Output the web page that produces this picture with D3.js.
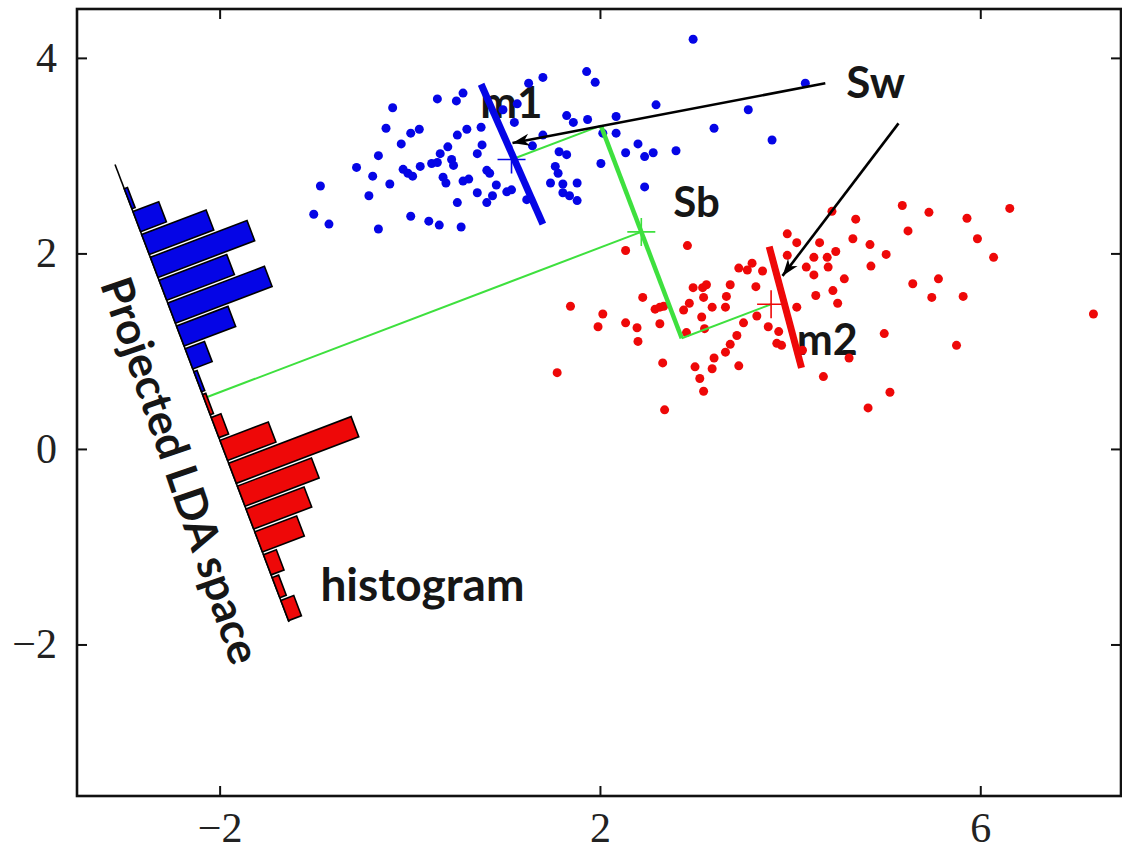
<!DOCTYPE html>
<html>
<head>
<meta charset="utf-8">
<script src="https://cdn.jsdelivr.net/npm/d3@7"></script>
<style>
  body { margin: 0; background: #fff; }
</style>
</head>
<body>
<div id="chart"></div>
<script>
// class 1 samples (blue)
const blueX = [-0.94, -1.01, -0.85, -0.56, -0.43, -0.39, -0.33, -0.25, -0.18, -0.21, -0.33, -0.09, -0.07, -0.02, 0.03,
  0.11, 0.01, 0.10, 0.01, 0.20, 0.31, 0.23, 0.29, 0.32, 0.40, 0.44, 0.46, 0.35, 0.38, 0.29, 0.49, 0.56, 0.50, 0.60,
  0.75, 0.76, 0.71, 0.56, 0.62, 0.50, 0.54, 0.71, 0.81, 0.84, 0.91, 0.87, 0.81, 1.02, 1.07, 1.23, 0.98, 1.10, 1.25,
  1.40, 1.86, 1.95, 1.65, 1.72, 1.87, 1.40, 1.57, 1.65, 1.53, 1.56, 1.48, 1.61, 1.76, 1.61, 1.68, 1.76, 2.01, 2.03,
  2.98, 3.56, 3.20, 2.80, 2.59, 2.47, 2.17, 2.17, 2.27, 2.40, 2.47, 2.56, 3.81, 4.16, 1.13, 1.29];
const blueY = [2.69, 2.40, 2.30, 2.88, 2.59, 2.79, 3.00, 3.28, 3.49, 2.71, 2.25, 3.12, 2.86, 2.82, 2.79,
  2.89, 3.23, 3.27, 2.38, 2.33, 2.29, 2.92, 2.93, 3.02, 3.09, 2.96, 2.90, 2.78, 2.72, 3.58, 3.56, 3.64, 3.21, 3.27,
  3.29, 3.11, 3.02, 2.74, 2.76, 2.52, 2.27, 2.62, 2.85, 2.82, 2.70, 2.59, 2.52, 2.63, 2.65, 2.55, 3.47, 3.34, 3.74,
  3.80, 3.86, 3.75, 3.41, 3.34, 3.37, 3.21, 3.04, 3.01, 2.89, 2.82, 2.72, 2.71, 2.72, 2.62, 2.59, 2.54, 2.92, 3.23,
  4.19, 3.47, 3.28, 3.05, 3.52, 2.68, 3.23, 3.40, 3.03, 3.12, 2.99, 3.03, 3.16, 3.74, 3.53, 3.10];

// class 2 samples (red)
const redX = [1.55, 1.69, 1.98, 2.03, 2.27, 2.27, 2.39, 2.40, 2.45, 2.58, 2.63, 2.67, 2.63, 2.66, 2.68, 2.92, 2.88,
  2.94, 2.98, 3.08, 3.12, 3.09, 3.18, 3.07, 3.10, 2.91, 3.00, 3.05, 3.09, 3.18, 3.20, 3.32, 3.37, 3.44, 3.51, 3.46,
  3.33, 3.32, 3.37, 3.46, 3.55, 3.60, 3.71, 3.64, 3.65, 3.77, 3.88, 3.91, 3.97, 4.07, 3.97, 4.07, 4.17, 4.25, 4.25,
  4.31, 4.39, 4.40, 4.48, 4.57, 4.27, 4.45, 4.50, 4.35, 4.66, 4.69, 4.44, 4.62, 4.13, 3.86, 5.18, 5.46, 5.86, 6.31,
  5.24, 5.97, 6.14, 4.84, 5.01, 4.85, 5.29, 5.56, 5.49, 5.82, 7.19, 4.99, 5.75, 5.05, 4.82];
const redY = [0.78, 1.46, 1.25, 1.38, 2.03, 1.29, 1.24, 1.10, 1.55, 1.43, 1.45, 1.46, 1.28, 0.88, 0.40, 2.08, 1.42,
  1.49, 1.65, 1.65, 1.68, 1.55, 1.45, 1.35, 1.23, 1.19, 0.84, 0.72, 0.59, 0.82, 0.93, 0.99, 1.07, 1.16, 1.29, 0.85,
  1.56, 1.45, 1.68, 1.85, 1.83, 1.90, 1.82, 1.66, 1.36, 1.25, 1.20, 1.06, 2.20, 2.11, 1.98, 1.45, 1.86, 1.96, 1.78,
  2.11, 1.96, 1.86, 2.02, 1.74, 1.57, 1.62, 1.49, 0.74, 2.15, 2.35, 2.43, 0.93, 1.01, 1.08, 2.49, 2.42, 2.36, 2.46,
  2.23, 2.15, 1.96, 2.09, 1.99, 1.87, 1.69, 1.74, 1.55, 1.56, 1.38, 1.18, 1.06, 0.58, 0.42];

// class means m1, m2
const meanX = [1.07, 3.80];
const meanY = [2.96, 1.48];

// within-class spread segments drawn through each class
const spreadX = [[0.75, 1.40], [3.78, 4.12]];
const spreadY = [[3.73, 2.30], [2.07, 0.83]];

// LDA projection axis (start, end) and histogram counts per bin along it
const projX = [-3.10, -1.27];
const projY = [2.91, -1.77];
const blueCounts = [0, 1, 8, 20, 30, 21, 30, 16, 6, 1, 0, 0, 0, 0, 0, 0, 0, 0, 0, 0];
const redCounts  = [0, 0, 0, 0, 0, 0, 0, 0, 0, 0, 1, 3, 15, 38, 23, 18, 13, 4, 2, 4];

// "Sw" arrows: tail -> head
const arrowX = [[4.37, 1.08], [5.14, 3.92]];
const arrowY = [[3.74, 3.13], [3.33, 1.77]];

// annotation labels
const labelText = ["m1", "m2", "Sb", "Sw", "histogram"];
const labelX = [0.74, 4.07, 2.77, 4.59, -0.94];
const labelY = [3.39, 0.96, 2.37, 3.59, -1.56];

const xTicks = [-2, 2, 6];
const yTicks = [-2, 0, 2, 4];

const width = 1122;
const height = 856;

const x = d3.scaleLinear().domain([-3.5, 7.48]).range([77, 1121]);
const y = d3.scaleLinear().domain([-3.55, 4.5]).range([796, 9]);

const BLUE = "#0505e6";
const RED = "#ee0808";
const GREEN = "#3ee03e";
const labelFont = "Lato, 'Open Sans', sans-serif";

const svg = d3.select("#chart")
              .append("svg")
              .attr("width", width)
              .attr("height", height);

// text annotations sit under the marks
const labelSize = [44, 43, 42, 44, 46];
svg.selectAll("text.label")
   .data(labelText)
   .enter()
   .append("text")
   .attr("class", "label")
   .attr("x", (d, i) => x(labelX[i]))
   .attr("y", (d, i) => y(labelY[i]))
   .style("font-family", labelFont)
   .style("font-weight", 700)
   .style("font-size", (d, i) => labelSize[i] + "px")
   .style("fill", "#161616")
   .text(d => d);

// scatter
const blue = blueX.map((v, i) => [v, blueY[i]]);
const red = redX.map((v, i) => [v, redY[i]]);

svg.append("g").selectAll("circle")
   .data(blue)
   .enter()
   .append("circle")
   .attr("cx", d => x(d[0]))
   .attr("cy", d => y(d[1]))
   .attr("r", 4.5)
   .style("fill", BLUE);

svg.append("g").selectAll("circle")
   .data(red)
   .enter()
   .append("circle")
   .attr("cx", d => x(d[0]))
   .attr("cy", d => y(d[1]))
   .attr("r", 4.5)
   .style("fill", RED);

// geometry of the projection direction, in pixels
const P0 = [x(projX[0]), y(projY[0])];
const P1 = [x(projX[1]), y(projY[1])];
const len = Math.hypot(P1[0] - P0[0], P1[1] - P0[1]);
const u = [(P1[0] - P0[0]) / len, (P1[1] - P0[1]) / len];
const ang = Math.atan2(u[1], u[0]) * 180 / Math.PI;
const foot = (p, o) => {
  const t = (p[0] - o[0]) * u[0] + (p[1] - o[1]) * u[1];
  return [o[0] + t * u[0], o[1] + t * u[1]];
};

const M1 = [x(meanX[0]), y(meanY[0])];
const M2 = [x(meanX[1]), y(meanY[1])];
const Mc = [(M1[0] + M2[0]) / 2, (M1[1] + M2[1]) / 2];
const S1 = foot(M1, Mc);
const S2 = foot(M2, Mc);
const F = foot(Mc, P0);

const line = d3.line();

// green: between-class construction
[[M1, S1], [M2, S2], [Mc, F]].forEach(seg => {
  svg.append("path")
     .attr("d", line(seg))
     .style("fill", "none")
     .style("stroke", GREEN)
     .style("stroke-width", 2);
});
svg.append("path")
   .attr("d", line([S1, S2]))
   .style("fill", "none")
   .style("stroke", GREEN)
   .style("stroke-width", 4.5);

// thick within-class segments
[BLUE, RED].forEach((c, i) => {
  svg.append("path")
     .attr("d", line(spreadX[i].map((v, j) => [x(v), y(spreadY[i][j])])))
     .style("stroke", c)
     .style("stroke-width", 7)
     .style("fill", "none");
});

// crosshair markers
const cross = (p, c) => {
  svg.append("path")
     .attr("d", `M${p[0] - 14},${p[1]}h28M${p[0]},${p[1] - 14}v28`)
     .style("stroke", c)
     .style("stroke-width", 1.6)
     .style("fill", "none");
};
cross(M1, BLUE);
cross(M2, RED);
cross(Mc, GREEN);

// arrows
svg.append("defs").append("marker")
   .attr("id", "head")
   .attr("markerUnits", "userSpaceOnUse")
   .attr("viewBox", "-18 -8 20 16")
   .attr("refX", 0)
   .attr("refY", 0)
   .attr("markerWidth", 20)
   .attr("markerHeight", 16)
   .attr("orient", "auto")
   .append("path")
   .attr("d", "M0,0L-17,-6L-12,0L-17,6Z")
   .style("fill", "#000");

arrowX.forEach((ax, i) => {
  svg.append("path")
     .attr("d", line(ax.map((v, j) => [x(v), y(arrowY[i][j])])))
     .style("stroke", "#000")
     .style("stroke-width", 2.6)
     .style("fill", "none")
     .attr("marker-end", "url(#head)");
});

// projected histogram along the LDA axis
const band = d3.scaleBand()
               .domain(d3.range(blueCounts.length))
               .range([0, len])
               .paddingInner(0.12)
               .paddingOuter(0.06);
const hScale = d3.scaleLinear().domain([0, 38]).range([0, 131]);

const hg = svg.append("g")
              .attr("transform", `translate(${P0[0]},${P0[1]}) rotate(${ang})`);

hg.append("line")
  .attr("x1", 0).attr("x2", len)
  .style("stroke", "#000")
  .style("stroke-width", 1.6);

[[blueCounts, BLUE], [redCounts, RED]].forEach(([counts, c]) => {
  hg.append("g").selectAll("rect")
    .data(counts.map((v, i) => [i, v]).filter(d => d[1] > 0))
    .enter()
    .append("rect")
    .attr("x", d => band(d[0]))
    .attr("width", band.bandwidth())
    .attr("y", d => -hScale(d[1]))
    .attr("height", d => hScale(d[1]))
    .style("fill", c)
    .style("stroke", "#000")
    .style("stroke-width", 1.6);
});

svg.append("text")
   .attr("transform", `translate(${x(-2.41)},${y(-0.22)}) rotate(71)`)
   .attr("text-anchor", "middle")
   .attr("dy", "0.36em")
   .style("font-family", labelFont)
   .style("font-weight", 700)
   .style("font-size", "44px")
   .style("fill", "#161616")
   .text("Projected LDA space");

// frame and ticks
const tickFont = "'Liberation Serif', 'Times New Roman', serif";

const styleAxis = g => {
  g.select(".domain").remove();
  g.selectAll(".tick line").style("stroke", "#111").style("stroke-width", 2);
  g.selectAll(".tick text")
   .style("font-family", tickFont)
   .style("font-size", "42px")
   .style("fill", "#222");
};

svg.append("g")
   .attr("transform", `translate(0,${y.range()[0]})`)
   .call(d3.axisBottom(x).tickValues(xTicks).tickSizeInner(-10).tickSizeOuter(0).tickPadding(16))
   .call(styleAxis);

svg.append("g")
   .attr("transform", `translate(0,${y.range()[1]})`)
   .call(d3.axisTop(x).tickValues(xTicks).tickSizeInner(-10).tickSizeOuter(0).tickFormat(""))
   .call(styleAxis);

svg.append("g")
   .attr("transform", `translate(${x.range()[0]},0)`)
   .call(d3.axisLeft(y).tickValues(yTicks).tickSizeInner(-10).tickSizeOuter(0).tickPadding(20))
   .call(styleAxis);

svg.append("g")
   .attr("transform", `translate(${x.range()[1]},0)`)
   .call(d3.axisRight(y).tickValues(yTicks).tickSizeInner(-10).tickSizeOuter(0).tickFormat(""))
   .call(styleAxis);

svg.append("rect")
   .attr("x", x.range()[0])
   .attr("y", y.range()[1])
   .attr("width", x.range()[1] - x.range()[0])
   .attr("height", y.range()[0] - y.range()[1])
   .style("fill", "none")
   .style("stroke", "#111")
   .style("stroke-width", 2.6);
</script>
</body>
</html>
